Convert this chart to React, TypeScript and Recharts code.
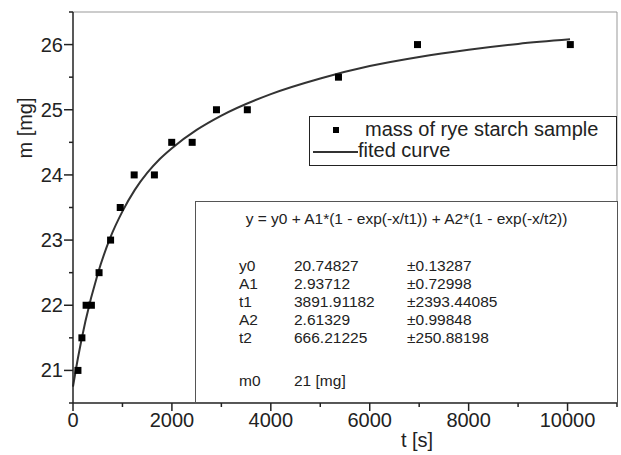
import React from "react";
import { ComposedChart, Line, Scatter, XAxis, YAxis, Legend, ReferenceLine } from "recharts";

const FONT = '"Liberation Sans", Arial, Helvetica, sans-serif';
const INK = "#222";

// measured points (t in s, m in mg)
const pointT = [100, 180, 265, 372, 527, 760, 955, 1237, 1646, 1996, 2410, 2901, 3525, 5368, 6966, 10056];
const pointM = [21, 21.5, 22, 22, 22.5, 23, 23.5, 24, 24, 24.5, 24.5, 25, 25, 25.5, 26, 26];

// fitted curve
const curveT = [0, 100, 250, 500, 750, 1000, 1250, 1500, 1750, 2000, 2500, 3000, 4000, 5000, 6000, 7000, 8000, 9000, 10050];
const curveM = [20.75, 21.19, 21.75, 22.48, 23.03, 23.44, 23.77, 24.03, 24.24, 24.41, 24.69, 24.91, 25.24, 25.48, 25.67, 25.81, 25.92, 26.01, 26.08];

const xTicks = [0, 1000, 2000, 3000, 4000, 5000, 6000, 7000, 8000, 9000, 10000, 11000];
const yTicks = [20.5, 21, 21.5, 22, 22.5, 23, 23.5, 24, 24.5, 25, 25.5, 26, 26.5];

const SERIES_NAMES = ["mass of rye starch sample", "fited curve"];

const equation = "y = y0 + A1*(1 - exp(-x/t1)) + A2*(1 - exp(-x/t2))";
const paramNames = ["y0", "A1", "t1", "A2", "t2"];
const paramValues = ["20.74827", "2.93712", "3891.91182", "2.61329", "666.21225"];
const paramErrors = ["±0.13287", "±0.72998", "±2393.44085", "±0.99848", "±250.88198"];
const extraName = "m0";
const extraValue = "21 [mg]";

const pointData = pointT.map((t, i) => ({ t, m: pointM[i] }));
const curveData = curveT.map((t, i) => ({ t, m: curveM[i] }));

function XTick(props: any) {
  const { x, y, payload } = props;
  const major = payload.value % 2000 === 0;
  return (
    <g>
      <line x1={x} x2={x} y1={y} y2={y + (major ? 8 : 4)} stroke={INK} strokeWidth={1.5} />
      {major && (
        <text x={x} y={y + 24} textAnchor="middle" fontSize={20} fontFamily={FONT} fill={INK}>
          {payload.value}
        </text>
      )}
    </g>
  );
}

function YTick(props: any) {
  const { x, y, payload } = props;
  const major = Number.isInteger(payload.value);
  return (
    <g>
      <line x1={x} x2={x - (major ? 9 : 4)} y1={y} y2={y} stroke={INK} strokeWidth={1.5} />
      {major && (
        <text x={x - 10} y={y + 7} textAnchor="end" fontSize={20} fontFamily={FONT} fill={INK}>
          {payload.value}
        </text>
      )}
    </g>
  );
}

function Square(props: any) {
  const { cx, cy } = props;
  return <rect x={cx - 3.5} y={cy - 3.5} width={7} height={7} fill="#000" />;
}

function LegendBox(props: any) {
  const items = [...(props.payload || [])].sort(
    (a: any, b: any) => SERIES_NAMES.indexOf(a.value) - SERIES_NAMES.indexOf(b.value)
  );
  return (
    <div style={{ position: "relative", width: 306, height: 48, border: "1px solid #222", background: "#fff", fontFamily: FONT, fontSize: 20, color: INK }}>
      {items.map((it: any, i: number) => (
        <div key={it.value} style={{ position: "absolute", left: 0, top: 3 + i * 21, height: 21, width: 306 }}>
          {i === 0 ? (
            <>
              <span style={{ position: "absolute", left: 23, top: 7, width: 6, height: 6, background: "#000" }} />
              <span style={{ position: "absolute", left: 55, top: -2, lineHeight: "23px", whiteSpace: "nowrap" }}>{it.value}</span>
            </>
          ) : (
            <>
              <span style={{ position: "absolute", left: 3, top: 10, width: 45, height: 2, background: "#333" }} />
              <span style={{ position: "absolute", left: 48, top: -2, lineHeight: "23px", whiteSpace: "nowrap" }}>{it.value}</span>
            </>
          )}
        </div>
      ))}
    </div>
  );
}

function FitBox() {
  const row = { position: "absolute" as const, lineHeight: "18px", whiteSpace: "nowrap" as const };
  return (
    <div
      style={{
        position: "absolute", left: 195, top: 201, width: 421, height: 200,
        border: "1px solid #555", background: "#fff", fontFamily: FONT, fontSize: 15.5, color: INK,
      }}
    >
      <div style={{ ...row, top: 8, left: 0, width: 421, textAlign: "center" }}>{equation}</div>
      {paramNames.map((n, i) => (
        <React.Fragment key={n}>
          <div style={{ ...row, top: 55 + i * 18, left: 43 }}>{n}</div>
          <div style={{ ...row, top: 55 + i * 18, left: 98 }}>{paramValues[i]}</div>
          <div style={{ ...row, top: 55 + i * 18, left: 211 }}>{paramErrors[i]}</div>
        </React.Fragment>
      ))}
      <div style={{ ...row, top: 170, left: 43 }}>{extraName}</div>
      <div style={{ ...row, top: 170, left: 98 }}>{extraValue}</div>
    </div>
  );
}

export default function App() {
  return (
    <div style={{ position: "absolute", left: 0, top: 0, width: 621, height: 455, background: "#fff" }}>
      <ComposedChart width={621} height={455} margin={{ top: 12, right: 4, left: 0, bottom: 0 }}>
        <XAxis
          dataKey="t"
          type="number"
          domain={[0, 11000]}
          ticks={xTicks}
          interval={0}
          tick={<XTick />}
          tickSize={0}
          tickMargin={0}
          tickLine={false}
          height={52}
          axisLine={{ stroke: INK, strokeWidth: 1.5 }}
          label={(p: any) => (
            <text x={p.viewBox.x + 344} y={p.viewBox.y + 44} textAnchor="middle" fontSize={20} fontFamily={FONT} fill={INK}>
              t [s]
            </text>
          )}
        />
        <YAxis
          type="number"
          domain={[20.5, 26.5]}
          ticks={yTicks}
          interval={0}
          tick={<YTick />}
          tickSize={0}
          tickMargin={0}
          tickLine={false}
          width={73}
          axisLine={{ stroke: INK, strokeWidth: 1.5 }}
          label={(p: any) => (
            <text
              x={p.viewBox.x + 32}
              y={p.viewBox.y + 116}
              transform={`rotate(-90 ${p.viewBox.x + 32} ${p.viewBox.y + 116})`}
              textAnchor="middle"
              fontSize={20}
              fontFamily={FONT}
              fill={INK}
            >
              m [mg]
            </text>
          )}
        />
        <ReferenceLine y={26.5} stroke="#999" strokeWidth={1} />
        <ReferenceLine x={11000} stroke="#999" strokeWidth={1} />
        <Line
          data={curveData}
          dataKey="m"
          name={SERIES_NAMES[1]}
          type="monotone"
          stroke="#333"
          strokeWidth={2}
          dot={false}
          isAnimationActive={false}
        />
        <Scatter
          data={pointData}
          dataKey="m"
          name={SERIES_NAMES[0]}
          shape={<Square />}
          isAnimationActive={false}
        />
        <Legend
          layout="vertical"
          align="center"
          verticalAlign="middle"
          content={<LegendBox />}
          wrapperStyle={{ left: 309, top: 116, width: 308, height: 50 }}
        />
      </ComposedChart>
      <FitBox />
    </div>
  );
}
